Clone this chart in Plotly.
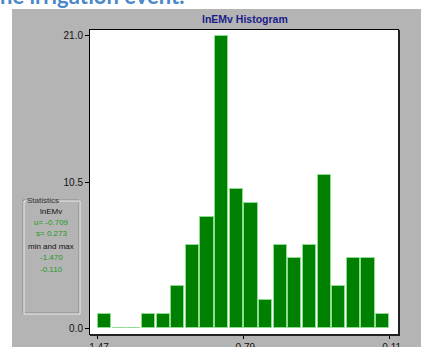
import plotly.graph_objects as go

# Histogram of lnEMv: bin counts over [min, max] split into equal bins
counts = [1, 0, 0, 1, 1, 3, 6, 8, 21, 10, 9, 2, 6, 5, 6, 11, 3, 5, 5, 1]
data_min = -1.470
data_max = -0.110
mean_val = -0.709
sd_val = 0.273
x_tick_labels = ["-1.47", "-0.79", "-0.11"]
y_tick_labels = ["0.0", "10.5", "21.0"]
y_ticks = [0.0, 10.5, 21.0]

W, H = 421, 347
n_bins = len(counts)
bin_w = (data_max - data_min) / n_bins
centers = [data_min + (i + 0.5) * bin_w for i in range(n_bins)]
x_ticks = [data_min, (data_min + data_max) / 2, data_max]

def px(x):
    return x / W

def py(y):
    return 1 - y / H

fig = go.Figure()
fig.add_trace(go.Bar(
    x=centers, y=counts, width=bin_w * 0.9,
    marker=dict(color="#008000", line=dict(color="#8fdc8f", width=1)),
    hoverinfo="skip",
))

grey = "#b4b4b4"
shapes = [
    # white page strips around the grey panel
    dict(type="rect", xref="paper", yref="paper", x0=0, x1=px(12), y0=0, y1=1,
         fillcolor="white", line=dict(width=0), layer="above"),
    dict(type="rect", xref="paper", yref="paper", x0=0, x1=1, y0=py(9), y1=1,
         fillcolor="white", line=dict(width=0), layer="above"),
    # statistics group box (etched frame)
    dict(type="rect", xref="paper", yref="paper", x0=px(23), x1=px(79), y0=py(313), y1=py(200),
         line=dict(color="#8c8c8c", width=1), layer="above"),
    dict(type="rect", xref="paper", yref="paper", x0=px(24), x1=px(80), y0=py(314), y1=py(201),
         line=dict(color="#ececec", width=1), layer="above"),
    # heavier right/bottom frame of the plot area
    dict(type="line", xref="paper", yref="paper", x0=px(399), x1=px(399), y0=py(335), y1=py(30),
         line=dict(color="#222222", width=2), layer="above"),
    dict(type="line", xref="paper", yref="paper", x0=px(90), x1=px(400), y0=py(335), y1=py(335),
         line=dict(color="#222222", width=2), layer="above"),
]

font_ui = "Liberation Sans, Arial, sans-serif"
annotations = [
    dict(text="he irrigation event.", xref="paper", yref="paper", x=px(-2), y=py(11),
         xanchor="left", yanchor="bottom", showarrow=False,
         font=dict(family="Lato, Open Sans, sans-serif", size=22, color="#4a88c8", weight="bold")),
    dict(text="lnEMv Histogram", xref="paper", yref="paper", x=px(245), y=py(19),
         xanchor="center", yanchor="middle", showarrow=False,
         font=dict(family=font_ui, size=10.5, color="#1c1c8a", weight="bold")),
    dict(text="Statistics", xref="paper", yref="paper", x=px(43), y=py(200),
         xanchor="center", yanchor="middle", showarrow=False, bgcolor=grey, borderpad=0,
         font=dict(family=font_ui, size=8, color="#333333")),
]
stat_lines = [
    ("lnEMv", "#111111", 212),
    (f"u= {mean_val:.3f}", "#1f9a1f", 223),
    (f"s= {sd_val:.3f}", "#1f9a1f", 234),
    ("min and max", "#111111", 246),
    (f"{data_min:.3f}", "#1f9a1f", 257),
    (f"{data_max:.3f}", "#1f9a1f", 269),
]
for txt, col, yy in stat_lines:
    annotations.append(dict(text=txt, xref="paper", yref="paper", x=px(51), y=py(yy),
                            xanchor="center", yanchor="middle", showarrow=False,
                            font=dict(family=font_ui, size=8, color=col)))

x_lo = data_min - 7.3 / 215.0
x_hi = data_max + 8.0 / 215.0
fig.update_layout(
    width=W, height=H,
    margin=dict(l=0, r=0, t=0, b=0),
    paper_bgcolor=grey, plot_bgcolor="white",
    showlegend=False,
    bargap=0,
    shapes=shapes, annotations=annotations,
    xaxis=dict(domain=[px(90), px(398)], range=[x_lo, x_hi], automargin=False,
               tickvals=x_ticks, ticktext=x_tick_labels,
               ticks="outside", ticklen=4, tickcolor="black",
               showline=True, linecolor="black", linewidth=1, mirror=True,
               showgrid=False, zeroline=False,
               tickfont=dict(family=font_ui, size=10, color="#111111")),
    yaxis=dict(domain=[py(334), py(30)], range=[-0.43, 21.43], automargin=False,
               tickvals=y_ticks, ticktext=y_tick_labels,
               ticks="outside", ticklen=4, tickcolor="black",
               showline=True, linecolor="black", linewidth=1, mirror=True,
               showgrid=False, zeroline=False,
               tickfont=dict(family=font_ui, size=10, color="#111111")),
)

fig.write_html("out.html")
